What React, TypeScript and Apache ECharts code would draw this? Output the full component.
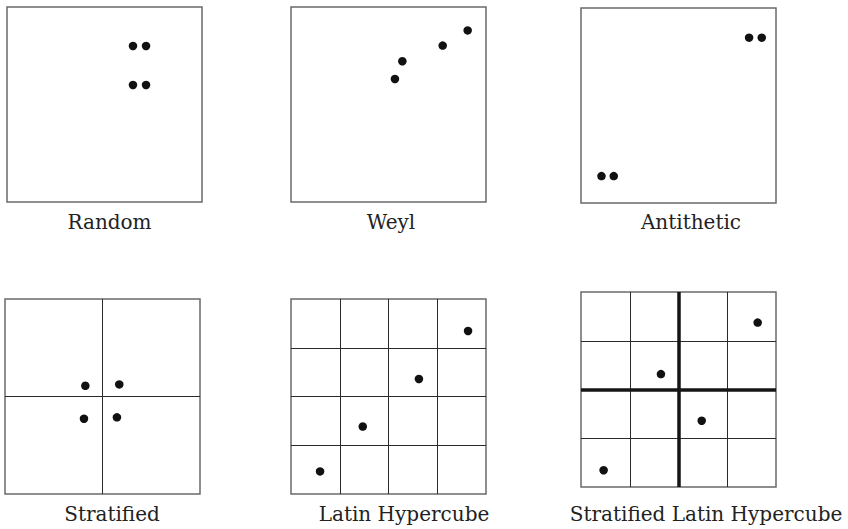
import React, { useEffect, useRef } from "react";
import * as echarts from "echarts";

// Panel titles
const titles = ["Random", "Weyl", "Antithetic", "Stratified", "Latin Hypercube", "Stratified Latin Hypercube"];

// Sample points for each panel (unit square coordinates)
const randomX = [0.646, 0.713, 0.646, 0.713];
const randomY = [0.8, 0.8, 0.6, 0.6];
const weylX = [0.533, 0.571, 0.778, 0.906];
const weylY = [0.631, 0.722, 0.802, 0.88];
const antitheticX = [0.105, 0.168, 0.862, 0.927];
const antitheticY = [0.138, 0.138, 0.848, 0.848];
const stratifiedX = [0.412, 0.586, 0.405, 0.574];
const stratifiedY = [0.555, 0.562, 0.386, 0.393];
const lhsX = [0.149, 0.368, 0.656, 0.908];
const lhsY = [0.116, 0.346, 0.59, 0.836];
const slhsX = [0.116, 0.41, 0.619, 0.906];
const slhsY = [0.086, 0.579, 0.34, 0.843];

// Grid division intervals per panel (0 = no inner lines)
const divisions = [0, 0, 0, 0.5, 0.25, 0.25];
const thickDivisions = [null, null, null, null, null, 0.5];

const panelX = [randomX, weylX, antitheticX, stratifiedX, lhsX, slhsX];
const panelY = [randomY, weylY, antitheticY, stratifiedY, lhsY, slhsY];

// layout
const boxes = [
  { left: 7, top: 7 },
  { left: 291, top: 7 },
  { left: 581, top: 8 },
  { left: 5, top: 299 },
  { left: 291, top: 299 },
  { left: 581, top: 292 },
];
const SIZE = 195;
const labelPos = [
  { x: 109.5, y: 222 },
  { x: 391, y: 222 },
  { x: 691, y: 222 },
  { x: 112, y: 514 },
  { x: 404, y: 514 },
  { x: 706, y: 514 },
];

export default function App() {
  const ref = useRef<HTMLDivElement>(null);
  useEffect(() => {
    if (!ref.current) return;
    const chart = echarts.init(ref.current, null, { renderer: "svg" });
    const grid: any[] = [];
    const xAxis: any[] = [];
    const yAxis: any[] = [];
    const series: any[] = [];
    const graphic: any[] = [];
    boxes.forEach((b, i) => {
      grid.push({
        left: b.left,
        top: b.top,
        width: SIZE,
        height: SIZE,
        show: true,
        borderColor: "#6a6a6a",
        borderWidth: 1.5,
        backgroundColor: "transparent",
      });
      const div = divisions[i];
      const mkAxis = () => ({
        type: "value",
        gridIndex: i,
        min: 0,
        max: 1,
        interval: div > 0 ? div : 1,
        axisLine: { show: false },
        axisTick: { show: false },
        axisLabel: { show: false },
        splitLine: {
          show: div > 0,
          showMinLine: false,
          showMaxLine: false,
          lineStyle: { color: "#2a2a2a", width: 1 },
        },
      });
      xAxis.push(mkAxis());
      yAxis.push(mkAxis());
      const data = panelX[i].map((x, k) => [x, panelY[i][k]]);
      const thick = thickDivisions[i];
      series.push({
        type: "scatter",
        xAxisIndex: i,
        yAxisIndex: i,
        data,
        symbol: "circle",
        symbolSize: 8.5,
        itemStyle: { color: "#111", opacity: 1 },
        silent: true,
        markLine:
          thick != null
            ? {
                silent: true,
                symbol: "none",
                label: { show: false },
                lineStyle: { color: "#151515", width: 3.5, type: "solid", opacity: 1 },
                data: [{ xAxis: thick }, { yAxis: thick }],
              }
            : undefined,
      });
      graphic.push({
        type: "text",
        x: labelPos[i].x,
        y: labelPos[i].y,
        style: {
          text: titles[i],
          font: '20px "DejaVu Serif"',
          fill: "#222",
          textAlign: "center",
          textVerticalAlign: "middle",
        },
      });
    });
    chart.setOption({
      animation: false,
      backgroundColor: "#fff",
      grid,
      xAxis,
      yAxis,
      series,
      graphic,
    });
    return () => chart.dispose();
  }, []);
  return (
    <div
      ref={ref}
      style={{ position: "fixed", left: 0, top: 0, width: 848, height: 529 }}
    />
  );
}
